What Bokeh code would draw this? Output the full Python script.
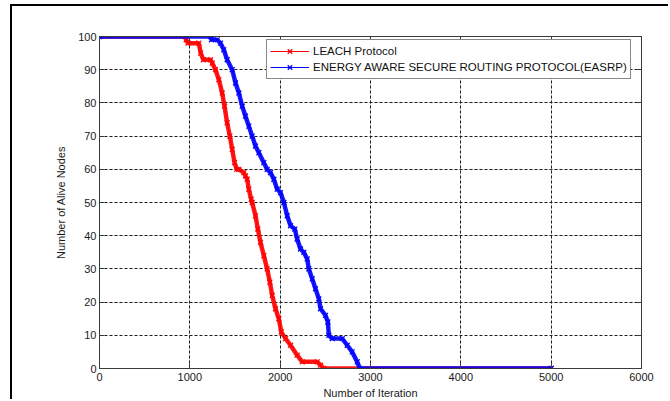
from bokeh.plotting import figure
from bokeh.models import (LinearAxis, Legend, LegendItem, Range1d, Grid,
                          FixedTicker, ColumnDataSource)
from bokeh.embed import file_html
from bokeh.resources import INLINE

# ---- data ----
leach_iter = [0, 950, 960, 980, 1100, 1120, 1150, 1229, 1248, 1284, 1321, 1358, 1384,
              1413, 1443, 1469, 1495, 1520, 1543, 1598, 1616, 1635, 1653, 1679, 1690,
              1727, 1753, 1782, 1819, 1856, 1886, 1912, 1948, 1985, 2012, 2060, 2115,
              2188, 2244, 2410, 2447, 2483, 5000]
leach_alive = [100, 100, 99, 98, 98, 95, 93, 93, 92, 90, 87, 83, 79,
               74, 70, 66, 62, 60, 60, 59, 58, 57, 54, 51, 50,
               46, 42, 38, 34, 30, 26, 22, 18, 15, 11, 9, 7,
               4, 2, 2, 1, 0, 0]

easrp_iter = [0, 1229, 1240, 1303, 1340, 1376, 1413, 1469, 1506, 1543, 1580, 1616,
              1653, 1690, 1727, 1764, 1819, 1856, 1893, 1930, 1967, 2004, 2041, 2078,
              2115, 2162, 2188, 2225, 2262, 2299, 2317, 2355, 2391, 2428, 2447, 2502,
              2528, 2539, 2576, 2687, 2742, 2797, 2853, 2882, 5000]
easrp_alive = [100, 100, 99, 99, 98, 96, 93, 90, 86, 83, 79, 76,
               73, 70, 67, 65, 62, 60, 59, 57, 54, 53, 50, 46,
               43, 42, 39, 36, 35, 33, 30, 27, 24, 21, 18, 16,
               14, 10, 9, 9, 7, 5, 2, 0, 0]

x_ticks = [0, 1000, 2000, 3000, 4000, 5000, 6000]
y_ticks = [0, 10, 20, 30, 40, 50, 60, 70, 80, 90, 100]

label_leach = "LEACH Protocol"
label_easrp = "ENERGY AWARE SECURE ROUTING PROTOCOL(EASRP)"
x_title = "Number of Iteration"
y_title = "Number of Alive Nodes"

FONT = "Liberation Sans"
BOX = "#3a3a3a"

# the page's outer black frame (top/left edges) is drawn as a CSS border;
# the canvas therefore starts at (12, 6) in the window.
p = figure(width=658, height=395, output_backend="svg", toolbar_location=None,
           x_range=Range1d(0, 6000), y_range=Range1d(0, 100),
           min_border_left=87, min_border_right=29, min_border_top=30,
           min_border_bottom=33, x_axis_location=None, y_axis_location=None)
p.styles = {"margin-left": "10px", "margin-top": "4px",
            "border-left": "2px solid black", "border-top": "2px solid black"}
p.background_fill_color = "white"
p.border_fill_color = "white"
p.outline_line_color = BOX

xt = FixedTicker(ticks=x_ticks, minor_ticks=[])
yt = FixedTicker(ticks=y_ticks, minor_ticks=[])


def style_axis(ax, show_labels):
    ax.axis_line_color = BOX
    ax.major_tick_line_color = BOX
    ax.major_tick_in = 5
    ax.major_tick_out = 0
    ax.minor_tick_line_color = None
    ax.major_label_text_font = FONT
    ax.major_label_text_color = "#1a1a1a" if show_labels else None
    ax.major_label_text_font_size = "11px"
    ax.axis_label_text_font = FONT
    ax.axis_label_text_font_size = "11px"
    ax.axis_label_text_font_style = "normal"
    ax.axis_label_text_color = "#1a1a1a"


xb = LinearAxis(ticker=xt, axis_label=x_title)
style_axis(xb, True)
xb.major_label_standoff = 4
xb.axis_label_standoff = 3
p.add_layout(xb, "below")

yl = LinearAxis(ticker=yt, axis_label=y_title)
style_axis(yl, True)
yl.major_label_standoff = 3
yl.axis_label_standoff = 8
p.add_layout(yl, "left")

xa = LinearAxis(ticker=xt)
style_axis(xa, False)
p.add_layout(xa, "above")

yr = LinearAxis(ticker=yt)
style_axis(yr, False)
p.add_layout(yr, "right")

gx = Grid(dimension=0, ticker=xt, grid_line_color="#1e1e1e", grid_line_dash="3 2",
          grid_line_width=1)
gy = Grid(dimension=1, ticker=yt, grid_line_color="#1e1e1e", grid_line_dash="3 2",
          grid_line_width=1)
p.add_layout(gx)
p.add_layout(gy)

src_l = ColumnDataSource(dict(x=leach_iter, y=leach_alive))
src_e = ColumnDataSource(dict(x=easrp_iter, y=easrp_alive))

RED = "#ff0000"
BLUE = "#0000ff"

p.line("x", "y", source=src_l, line_color=RED, line_width=4.5, line_alpha=0.9)
rl = p.line("x", "y", source=src_l, line_color=RED, line_width=1)
rs = p.scatter("x", "y", source=src_l, marker="x", size=7, line_color=RED, line_width=1.2)

p.line("x", "y", source=src_e, line_color=BLUE, line_width=4.5, line_alpha=0.9)
bl = p.line("x", "y", source=src_e, line_color=BLUE, line_width=1)
bs = p.scatter("x", "y", source=src_e, marker="x", size=7, line_color=BLUE, line_width=1.2)

legend = Legend(items=[LegendItem(label=label_leach, renderers=[rl, rs]),
                       LegendItem(label=label_easrp, renderers=[bl, bs])],
                location=(167, 289))
legend.label_text_font = FONT
legend.label_text_font_size = "11.5px"
legend.label_text_color = "#111111"
legend.border_line_color = "#111111"
legend.border_line_width = 1
legend.background_fill_color = "white"
legend.background_fill_alpha = 1
legend.padding = 3
legend.spacing = 0
legend.margin = 0
legend.glyph_width = 39
legend.glyph_height = 16
legend.label_height = 16
legend.label_standoff = 4
p.add_layout(legend)

open("out.html", "w").write(file_html(p, INLINE))
